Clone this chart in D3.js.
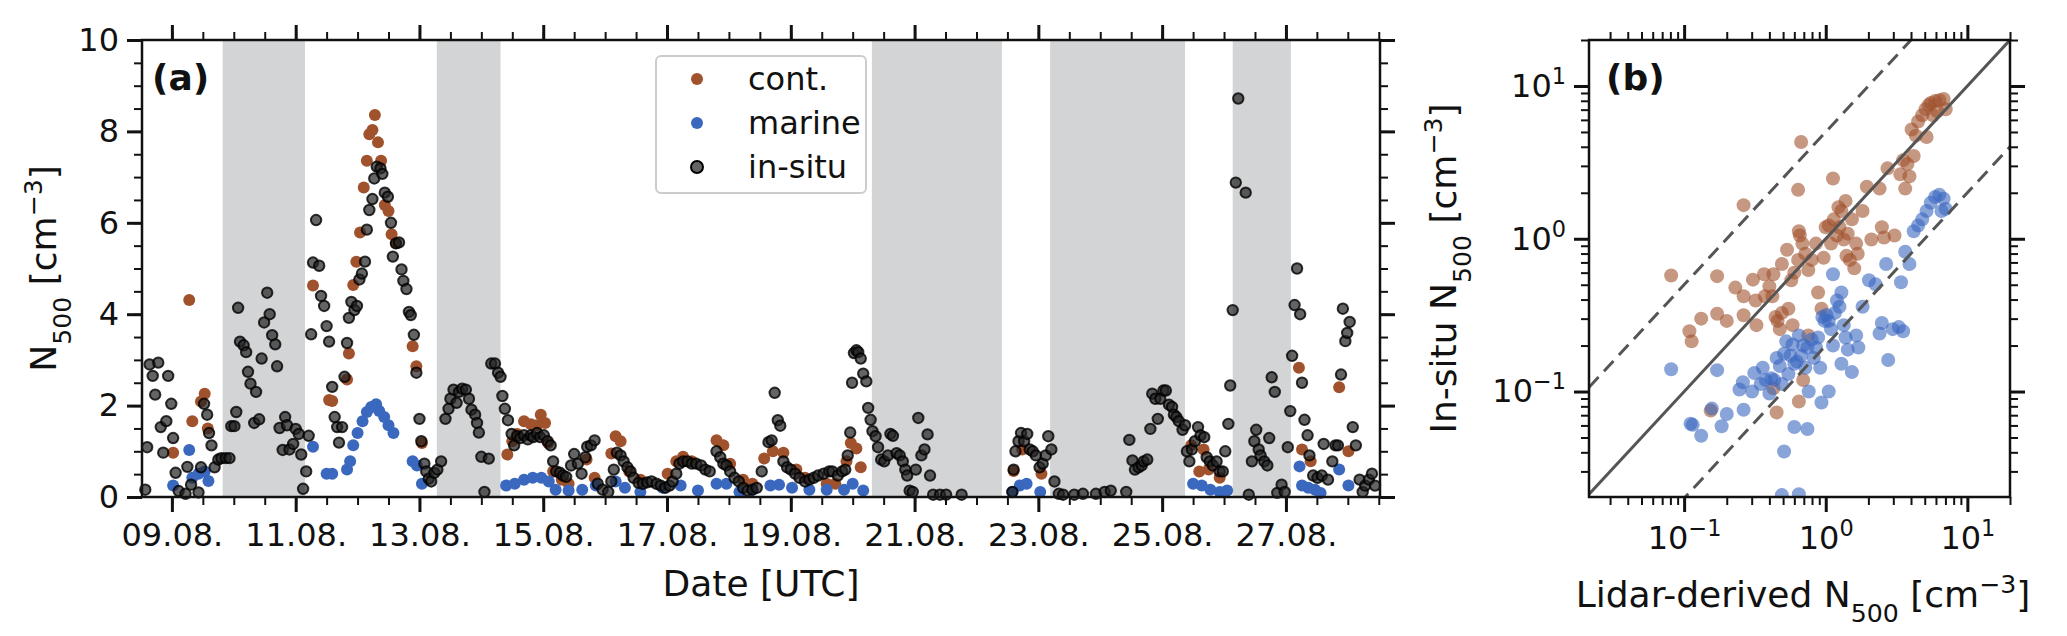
<!DOCTYPE html>
<head>
<script src="https://d3js.org/d3.v7.min.js"></script>
<style>
  body { margin: 0; background: white; }
  svg text { font-family: 'DejaVu Sans', sans-serif; fill: #111; }
</style>
</head>
<body>
<svg id="chart" width="2067" height="636"></svg>
<script>
// days since 09.08. 00:00 UTC
var insituDay = [-0.43,-0.4,-0.36,-0.31,-0.27,-0.22,-0.18,-0.14,-0.09,-0.06,-0.01,0.02,0.06,0.11,0.22,0.25,0.31,0.43,0.47,0.52,0.57,0.6,0.64,0.69,0.75,0.8,0.87,0.93,0.96,1.01,1.04,1.07,1.1,1.16,1.2,1.23,1.27,1.33,1.36,1.41,1.45,1.49,1.54,1.58,1.62,1.67,1.7,1.74,1.79,1.83,1.86,1.9,1.96,2.0,2.05,2.09,2.12,2.17,2.21,2.25,2.28,2.33,2.38,2.41,2.46,2.5,2.54,2.59,2.63,2.67,2.7,2.75,2.79,2.83,2.86,2.9,2.95,2.99,3.03,3.07,3.12,3.15,3.19,3.24,3.27,3.31,3.37,3.4,3.44,3.49,3.54,3.57,3.62,3.67,3.71,3.74,3.79,3.83,3.86,3.91,3.95,4.0,4.03,4.08,4.11,4.15,4.19,4.24,4.29,4.35,4.42,4.47,4.5,4.55,4.6,4.64,4.69,4.75,4.8,4.84,4.9,4.93,4.96,5.0,5.05,5.12,5.16,5.22,5.27,5.31,5.34,5.38,5.43,5.49,5.53,5.58,5.63,5.69,5.75,5.8,5.84,5.9,5.95,6.01,6.07,6.12,6.16,6.21,6.27,6.32,6.37,6.45,6.5,6.56,6.62,6.68,6.71,6.77,6.83,6.88,6.96,7.05,7.1,7.14,7.19,7.25,7.3,7.36,7.41,7.46,7.54,7.61,7.68,7.75,7.83,7.9,7.97,8.04,8.09,8.15,8.2,8.26,8.33,8.4,8.47,8.55,8.62,8.69,8.8,8.86,8.91,8.96,9.02,9.09,9.16,9.23,9.3,9.38,9.45,9.53,9.64,9.69,9.74,9.79,9.83,9.88,9.94,10.0,10.07,10.14,10.23,10.3,10.37,10.44,10.53,10.62,10.67,10.76,10.83,10.88,10.92,10.96,10.99,11.02,11.06,11.09,11.13,11.17,11.22,11.25,11.29,11.32,11.37,11.41,11.46,11.51,11.57,11.61,11.65,11.71,11.76,11.81,11.85,11.88,11.92,11.97,12.02,12.06,12.11,12.16,12.21,12.25,12.3,12.41,12.51,12.76,13.58,13.6,13.63,13.68,13.72,13.77,13.82,13.86,13.91,13.96,14.02,14.07,14.12,14.16,14.21,14.26,14.33,14.4,14.58,14.72,14.93,15.07,15.17,15.42,15.47,15.52,15.56,15.62,15.67,15.7,15.76,15.81,15.84,15.89,15.93,15.97,16.02,16.06,16.11,16.16,16.19,16.23,16.27,16.33,16.37,16.4,16.44,16.48,16.53,16.58,16.62,16.68,16.72,16.77,16.82,16.88,16.93,16.98,17.02,17.07,17.1,17.14,17.19,17.23,17.35,17.4,17.45,17.49,17.52,17.56,17.59,17.65,17.7,17.73,17.77,17.82,17.86,17.93,17.98,18.03,18.07,18.1,18.14,18.18,18.23,18.26,18.3,18.35,18.38,18.44,18.51,18.58,18.61,18.68,18.75,18.8,18.84,18.89,18.92,18.96,18.99,19.03,19.08,19.13,19.19,19.24,19.28,19.34,19.39,19.44];
var insituVal = [0.16,1.09,2.9,2.65,2.24,2.94,1.53,0.97,1.66,2.65,2.04,1.29,0.53,0.13,0.07,0.66,0.27,0.1,0.65,2.04,1.8,1.4,1.13,0.65,0.82,0.85,0.85,0.85,1.55,1.55,1.86,4.14,3.4,3.32,3.17,2.74,2.48,1.62,2.3,1.7,3.03,3.82,4.47,4.0,3.54,3.34,2.86,1.51,1.03,1.75,1.57,1.04,1.16,1.49,1.38,0.93,0.18,0.56,1.34,3.56,5.13,6.06,5.06,4.4,4.18,3.74,3.4,2.41,1.75,1.53,1.19,1.53,2.63,3.37,3.92,4.27,4.09,4.18,4.76,4.89,5.15,5.85,6.28,6.52,6.97,7.23,7.19,7.07,6.66,6.57,6.0,5.26,5.55,5.57,4.98,4.73,4.55,4.05,3.98,3.55,2.72,1.71,1.22,0.73,0.56,0.4,0.34,0.53,0.6,0.78,1.71,1.93,2.15,2.35,2.06,2.3,2.37,2.35,2.15,1.91,1.8,1.62,1.41,0.88,0.11,0.84,2.92,2.92,2.72,2.63,2.21,1.93,1.68,1.38,1.13,1.33,1.29,1.35,1.26,1.35,1.31,1.4,1.31,1.35,1.22,1.13,0.78,0.56,0.53,0.47,0.44,0.69,0.94,0.73,0.51,0.87,1.1,1.13,1.24,0.29,0.16,0.11,0.34,0.6,0.97,0.91,0.78,0.65,0.56,0.42,0.31,0.29,0.32,0.34,0.29,0.25,0.2,0.25,0.34,0.51,0.73,0.78,0.78,0.73,0.73,0.69,0.6,0.56,1.0,0.87,0.73,0.69,0.56,0.42,0.34,0.2,0.14,0.16,0.2,0.56,1.2,1.24,2.28,1.68,1.56,0.78,0.65,0.6,0.51,0.42,0.34,0.38,0.42,0.47,0.51,0.56,0.56,0.47,0.56,0.6,0.91,1.41,2.5,3.15,3.21,3.17,3.03,2.7,2.53,1.95,1.69,1.44,1.33,1.09,0.82,0.78,0.91,1.38,1.34,0.96,0.91,0.78,0.6,0.47,0.14,0.11,0.6,1.73,0.91,1.04,1.37,0.47,0.05,0.05,0.05,0.05,0.11,0.6,1.0,1.22,1.4,1.22,1.38,1.04,1.0,0.91,0.65,0.73,0.91,1.33,1.04,0.34,0.07,0.05,0.05,0.07,0.07,0.11,0.14,0.11,1.25,0.8,0.6,0.65,0.69,0.78,0.82,1.49,2.26,2.15,1.71,2.15,2.33,2.33,2.02,1.97,1.8,1.75,1.66,1.47,1.57,1.0,0.78,1.04,1.22,1.53,1.35,1.31,0.87,0.78,0.69,0.78,0.56,0.56,1.0,1.6,2.44,4.09,6.88,8.72,6.66,0.05,0.78,1.22,1.47,1.04,0.91,0.78,0.69,1.29,2.62,2.3,0.09,0.27,0.11,1.09,1.88,3.09,4.2,5.0,4.0,2.5,1.69,1.35,0.91,0.47,0.42,0.47,1.16,0.38,0.78,1.13,1.13,2.68,4.12,3.41,3.59,3.83,1.53,1.13,0.38,0.11,0.25,0.38,0.51,0.25];
var contDay = [0.02,0.28,0.33,0.47,0.53,0.58,2.28,2.54,2.59,2.83,2.86,2.93,2.98,3.04,3.1,3.15,3.19,3.24,3.28,3.33,3.38,3.44,3.5,3.55,3.62,3.89,3.95,4.04,5.42,5.5,5.58,5.69,5.8,5.9,5.96,6.03,6.08,6.16,6.3,6.41,6.7,6.83,7.1,7.17,7.25,7.39,7.57,8.01,8.15,8.26,8.4,8.8,8.91,9.02,9.23,9.38,9.57,9.71,9.88,10.09,10.23,10.58,10.72,10.9,10.97,11.06,11.13,13.6,13.74,14.05,16.47,16.6,16.67,16.75,16.93,18.21,18.26,18.4,18.86,19.01];
var contVal = [0.97,4.31,1.66,2.09,2.26,1.5,4.63,2.12,2.1,2.57,3.14,4.64,5.15,5.79,6.77,7.36,7.94,8.03,8.36,7.76,7.36,6.39,6.26,5.75,5.55,3.3,2.86,1.18,0.93,1.22,1.38,1.66,1.59,1.57,1.8,1.62,1.18,0.56,0.38,0.29,0.82,0.42,0.95,1.33,1.22,0.56,0.38,0.51,0.78,0.88,0.78,1.24,1.13,0.73,0.38,0.29,0.84,1.0,0.97,0.6,0.42,0.29,0.29,0.78,1.18,1.06,0.65,0.57,1.04,0.51,1.13,0.56,1.04,0.6,0.42,2.83,1.04,0.78,2.4,1.0];
var marineDay = [0.02,0.28,0.33,0.43,0.53,0.59,2.28,2.5,2.59,2.83,2.88,2.93,3.0,3.08,3.15,3.22,3.3,3.35,3.43,3.5,3.58,3.89,3.96,4.04,5.4,5.54,5.69,5.83,5.97,6.09,6.2,6.41,6.63,6.85,7.17,7.32,7.57,7.93,8.22,8.5,8.8,8.96,9.17,9.38,9.67,9.81,10.02,10.3,10.58,10.86,11.0,11.17,13.58,13.7,13.81,14.03,16.5,16.64,16.78,16.93,17.05,18.22,18.26,18.36,18.47,18.56,18.86,19.01];
var marineVal = [0.25,1.03,0.42,0.51,0.56,0.35,1.1,0.51,0.51,0.6,0.78,1.13,1.4,1.66,1.86,1.97,2.03,1.88,1.75,1.57,1.4,0.78,0.69,0.29,0.25,0.29,0.38,0.42,0.42,0.34,0.16,0.14,0.16,0.25,0.34,0.2,0.11,0.2,0.25,0.14,0.29,0.29,0.11,0.16,0.25,0.27,0.2,0.16,0.16,0.16,0.29,0.14,0.11,0.25,0.29,0.11,0.29,0.25,0.16,0.11,0.14,0.67,0.25,0.2,0.16,0.09,0.6,0.25];
var nightStart = [0.82, 4.28, 11.31, 14.19, 17.14];
var nightEnd = [2.15, 5.31, 13.41, 16.37, 18.08];
var dateTickDays = [0, 2, 4, 6, 8, 10, 12, 14, 16, 18];
var dateTickLabels = ['09.08.', '11.08.', '13.08.', '15.08.', '17.08.', '19.08.', '21.08.', '23.08.', '25.08.', '27.08.'];

// panel (b): lidar-derived vs in-situ
var contLidar = [0.081,0.171,0.132,0.109,0.113,0.171,0.2,0.263,0.23,0.263,0.306,0.32,0.367,0.4,0.427,0.442,0.457,0.474,0.263,0.324,0.372,0.42,0.49,0.533,0.571,0.6,0.638,0.656,0.646,0.67,0.638,0.684,0.718,0.753,0.795,0.853,0.883,0.933,0.966,1.0,1.05,1.09,1.125,1.14,1.2,1.23,1.25,1.29,1.34,1.38,1.4,1.43,1.48,1.53,1.64,1.68,1.82,1.59,1.95,2.1,2.4,2.49,2.58,2.73,3.06,3.36,3.52,3.77,3.9,3.64,4.04,4.33,4.49,4.8,5.07,5.33,5.52,5.92,6.34,6.8,5.72,6.13,7.03,5.15,4.18,0.753,0.693,0.49,0.545,0.427,0.45,0.154,0.646,0.583];
var contInsitu = [0.575,0.569,0.3,0.248,0.213,0.323,0.29,1.66,0.479,0.42,0.54,0.394,0.586,0.488,0.586,0.308,0.29,0.256,0.316,0.272,0.42,0.42,0.684,0.847,0.535,0.6,0.727,1.05,1.12,4.3,2.09,0.93,0.797,0.624,0.727,0.93,0.445,0.348,0.75,1.19,1.22,0.93,2.48,1.34,1.05,1.61,1.19,1.52,0.99,1.77,0.773,1.08,0.727,1.34,0.93,0.797,1.52,0.64,2.19,0.99,2.13,1.19,1.02,2.89,1.05,2.64,3.27,3.08,2.56,2.13,5.19,4.73,5.86,6.43,7.05,7.5,7.73,7.97,8.07,8.22,6.43,6.84,7.05,4.64,3.48,0.233,0.119,0.327,0.348,0.105,0.073,0.075,0.086,0.272];
var marineLidar = [0.081,0.171,0.111,0.115,0.132,0.184,0.2,0.157,0.263,0.246,0.26,0.302,0.313,0.347,0.359,0.377,0.4,0.413,0.433,0.45,0.474,0.49,0.508,0.526,0.545,0.564,0.583,0.6,0.625,0.646,0.67,0.693,0.718,0.743,0.758,0.795,0.824,0.853,0.883,0.914,0.946,0.98,1.01,1.05,1.09,1.125,1.16,1.2,1.25,1.29,1.34,1.38,1.43,1.53,1.64,1.7,1.82,2.02,2.25,2.4,2.49,2.67,2.76,2.97,3.28,3.52,3.4,3.64,3.9,4.18,4.49,4.8,5.15,5.52,5.92,6.34,6.8,6.57,7.03,1.125,0.6,0.743,0.933,0.508,0.49,0.646,1.05,1.29];
var marineInsitu = [0.14,0.138,0.0615,0.0605,0.0513,0.0593,0.0713,0.0773,0.076,0.103,0.115,0.1,0.132,0.112,0.143,0.119,0.097,0.122,0.119,0.166,0.147,0.112,0.177,0.213,0.13,0.172,0.203,0.152,0.157,0.233,0.172,0.2,0.143,0.194,0.1,0.219,0.166,0.194,0.226,0.143,0.308,0.29,0.317,0.29,0.256,0.2,0.327,0.394,0.359,0.445,0.272,0.226,0.188,0.134,0.233,0.194,0.359,0.535,0.503,0.24,0.281,0.684,0.161,0.256,0.264,0.248,0.519,0.822,0.684,1.12,1.22,1.34,1.52,1.72,1.88,1.94,1.83,1.52,1.57,0.586,0.0586,0.0568,0.0848,0.0405,0.021,0.0213,0.1,0.152];

var contColor = '#a0522d', marineColor = '#3a68bf';
var svg = d3.select('#chart');
var plotTop = 40, plotBottom = 497;
var tickFont = '32px', labelFont = '36px';

function sup(sel, base, exp) {
  sel.append('tspan').text(base);
  sel.append('tspan').attr('baseline-shift', 'super').attr('font-size', '0.7em').text(exp);
}
function unitLabel(sel, prefix) {
  sel.append('tspan').text(prefix + 'N');
  sel.append('tspan').attr('baseline-shift', 'sub').attr('font-size', '0.7em').text('500');
  sel.append('tspan').text(' [cm');
  sel.append('tspan').attr('baseline-shift', 'super').attr('font-size', '0.7em').text('−3');
  sel.append('tspan').text(']');
}

// ---------- panel (a) ----------
var ax = { left: 142, right: 1380 };
var x = d3.scaleLinear().domain([-0.483, 19.52]).range([ax.left, ax.right]);
var y = d3.scaleLinear().domain([0, 10]).range([plotBottom, plotTop]);
var ga = svg.append('g');

ga.selectAll('rect.night').data(nightStart).join('rect')
  .attr('x', function (d) { return x(d); })
  .attr('y', plotTop)
  .attr('width', function (d, i) { return x(nightEnd[i]) - x(d); })
  .attr('height', plotBottom - plotTop)
  .attr('fill', '#d3d4d6');

function dots(g, xs, ys, fill, op, stroke, r) {
  g.selectAll(null).data(xs).join('circle')
    .attr('cx', function (d) { return x(d); })
    .attr('cy', function (d, i) { return y(ys[i]); })
    .attr('r', r)
    .attr('fill', fill).attr('fill-opacity', op)
    .attr('stroke', stroke).attr('stroke-width', stroke === 'none' ? 0 : 2);
}
dots(ga, contDay, contVal, contColor, 1, 'none', 6);
dots(ga, marineDay, marineVal, marineColor, 1, 'none', 6);
dots(ga, insituDay, insituVal, '#222', 0.7, 'rgba(0,0,0,0.8)', 5.2);

function frame(g, l, r) {
  g.append('rect').attr('x', l).attr('y', plotTop).attr('width', r - l).attr('height', plotBottom - plotTop)
    .attr('fill', 'none').attr('stroke', '#111').attr('stroke-width', 2.5);
}
frame(ga, ax.left, ax.right);

function styleAxis(g, w) {
  g.select('.domain').remove();
  g.selectAll('line').attr('stroke', '#111').attr('stroke-width', w);
  g.selectAll('text').attr('font-size', tickFont);
}
var minorX = d3.range(-0.5, 19.6, 0.5);
var minorY = d3.range(0, 10.1, 0.5);
[[d3.axisBottom, plotBottom], [d3.axisTop, plotTop]].forEach(function (a, k) {
  ga.append('g').attr('transform', 'translate(0,' + a[1] + ')')
    .call(a[0](x).tickValues(minorX.filter(function (v) { return v >= -0.483; })).tickSize(8).tickFormat(''))
    .call(styleAxis, 2);
  ga.append('g').attr('transform', 'translate(0,' + a[1] + ')')
    .call(a[0](x).tickValues(dateTickDays).tickSize(15).tickPadding(11)
      .tickFormat(function (d, i) { return k === 0 ? dateTickLabels[i] : ''; }))
    .call(styleAxis, 3);
});
[[d3.axisLeft, ax.left], [d3.axisRight, ax.right]].forEach(function (a, k) {
  ga.append('g').attr('transform', 'translate(' + a[1] + ',0)')
    .call(a[0](y).tickValues(minorY).tickSize(8).tickFormat('')).call(styleAxis, 2);
  ga.append('g').attr('transform', 'translate(' + a[1] + ',0)')
    .call(a[0](y).tickValues([0, 2, 4, 6, 8, 10]).tickSize(15).tickPadding(8)
      .tickFormat(function (d) { return k === 0 ? d : ''; }))
    .call(styleAxis, 3);
});

ga.append('text').attr('x', 152).attr('y', 90).attr('font-size', '36px').attr('font-weight', 'bold').text('(a)');
ga.append('text').attr('x', (ax.left + ax.right) / 2).attr('y', 596).attr('text-anchor', 'middle')
  .attr('font-size', labelFont).text('Date [UTC]');
var yl = ga.append('text').attr('transform', 'translate(56,' + ((plotTop + plotBottom) / 2) + ') rotate(-90)')
  .attr('text-anchor', 'middle').attr('font-size', labelFont);
unitLabel(yl, '');

// legend
var leg = ga.append('g');
leg.append('rect').attr('x', 656).attr('y', 56).attr('width', 210).attr('height', 137).attr('rx', 5)
  .attr('fill', 'white').attr('fill-opacity', 0.85).attr('stroke', '#ccc').attr('stroke-width', 2);
var legNames = ['cont.', 'marine', 'in-situ'];
var legColors = [contColor, marineColor, '#222'];
legNames.forEach(function (n, i) {
  var cy = 79 + i * 44;
  leg.append('circle').attr('cx', 697).attr('cy', cy).attr('r', 6).attr('fill', legColors[i])
    .attr('fill-opacity', i === 2 ? 0.7 : 1).attr('stroke', i === 2 ? '#000' : 'none').attr('stroke-width', 2);
  leg.append('text').attr('x', 748).attr('y', cy + 11).attr('font-size', tickFont).text(n);
});

// ---------- panel (b) ----------
var bx = { left: 1589, right: 2010 };
var lx = d3.scaleLog().domain([0.0213, 20]).range([bx.left, bx.right]);
var ly = d3.scaleLog().domain([0.0204, 20]).range([plotBottom, plotTop]);
var gb = svg.append('g');
gb.append('clipPath').attr('id', 'clipb').append('rect')
  .attr('x', bx.left).attr('y', plotTop).attr('width', bx.right - bx.left).attr('height', plotBottom - plotTop);
var pb = gb.append('g').attr('clip-path', 'url(#clipb)');

function pts(xs, ys, c) {
  pb.selectAll(null).data(xs).join('circle')
    .attr('cx', function (d) { return lx(d); })
    .attr('cy', function (d, i) { return ly(ys[i]); })
    .attr('r', 7).attr('fill', c).attr('fill-opacity', 0.6);
}
pts(contLidar, contInsitu, contColor);
pts(marineLidar, marineInsitu, marineColor);

var lineFactors = [1, 5, 0.2];
lineFactors.forEach(function (f) {
  pb.append('line')
    .attr('x1', lx(0.0213)).attr('y1', ly(0.0213 * f))
    .attr('x2', lx(20)).attr('y2', ly(20 * f))
    .attr('stroke', '#555').attr('stroke-width', 3)
    .attr('stroke-dasharray', f === 1 ? null : '14,8');
});
frame(gb, bx.left, bx.right);

var decades = [0.1, 1, 10];
var minorLog = [];
[0.01, 0.1, 1, 10].forEach(function (d) { for (var m = 2; m <= 9; m++) minorLog.push(d * m); });
function logAxes(scale, dom, horizontal) {
  var mm = minorLog.filter(function (v) { return v >= dom[0] && v <= dom[1]; });
  var pairs = horizontal ? [[d3.axisBottom, plotBottom], [d3.axisTop, plotTop]] : [[d3.axisLeft, bx.left], [d3.axisRight, bx.right]];
  pairs.forEach(function (a, k) {
    var tr = horizontal ? 'translate(0,' + a[1] + ')' : 'translate(' + a[1] + ',0)';
    gb.append('g').attr('transform', tr).call(a[0](scale).tickValues(mm).tickSize(8).tickFormat('')).call(styleAxis, 2);
    var g = gb.append('g').attr('transform', tr)
      .call(a[0](scale).tickValues(decades).tickSize(15).tickPadding(horizontal ? 14 : 8).tickFormat(''))
      .call(styleAxis, 3);
    if (k === 0) {
      g.selectAll('.tick text').each(function (d) {
        sup(d3.select(this), '10', String(Math.round(Math.log10(d))).replace('-', '−'));
      });
    }
  });
}
logAxes(lx, [0.0213, 20], true);
logAxes(ly, [0.0204, 20], false);

gb.append('text').attr('x', 1606).attr('y', 90).attr('font-size', '36px').attr('font-weight', 'bold').text('(b)');
var xl = gb.append('text').attr('x', 1803).attr('y', 607).attr('text-anchor', 'middle').attr('font-size', labelFont);
unitLabel(xl, 'Lidar-derived ');
var yb = gb.append('text').attr('transform', 'translate(1456,' + ((plotTop + plotBottom) / 2) + ') rotate(-90)')
  .attr('text-anchor', 'middle').attr('font-size', labelFont);
unitLabel(yb, 'In-situ ');
</script>
</body>
</html>
